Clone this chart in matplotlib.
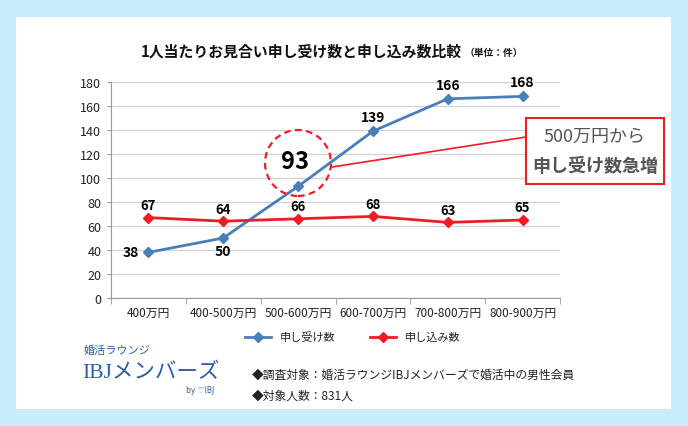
import matplotlib.pyplot as plt
from matplotlib.patches import Rectangle, Ellipse
from matplotlib.lines import Line2D

plt.rcParams['font.family'] = ['Noto Sans CJK JP', 'DejaVu Sans']

# -------------------------------
# DATA
# -------------------------------
categories = ["400万円", "400-500万円", "500-600万円", "600-700万円", "700-800万円", "800-900万円"]
received = [38, 50, 93, 139, 166, 168]     # 申し受け数
applied = [67, 64, 66, 68, 63, 65]         # 申し込み数
series_names = ["申し受け数", "申し込み数"]
yticks = [0, 20, 40, 60, 80, 100, 120, 140, 160, 180]

W, H = 688, 427
BLUE = "#4a7ebb"
RED = "#ee1c25"


def px(x, y):
    return x / W, 1 - y / H


fig = plt.figure(figsize=(W / 100, H / 100), dpi=100)
fig.patch.set_facecolor("#c6ecfd")
fig.patches.append(Rectangle(px(16, 410), (671 - 16) / W, (410 - 18) / H,
                             transform=fig.transFigure, facecolor="white",
                             edgecolor="none", zorder=-5))

ax = fig.add_axes([111 / W, 128 / H, (560 - 111) / W, (299 - 83) / H])
ax.set_facecolor("white")

x = list(range(len(categories)))
ax.plot(x, received, color=BLUE, lw=2, marker="D", ms=5.5, zorder=3)
ax.plot(x, applied, color=RED, lw=2, marker="D", ms=5.5, zorder=3)

ax.set_xlim(-0.5, len(categories) - 0.5)
ax.set_ylim(0, 180)
ax.set_yticks(yticks)
ax.set_xticks(x)
ax.set_xticklabels(categories, fontsize=8.5, color="#222")
ax.set_xticks([i - 0.5 for i in range(len(categories) + 1)], minor=True)
ax.tick_params(axis="x", which="major", length=0, pad=6)
ax.tick_params(axis="x", which="minor", length=4, color="#999")
ax.tick_params(axis="y", length=3, color="#999", labelsize=9, labelcolor="#222", pad=4)
ax.grid(axis="y", color="#d4d4d4", lw=1)
ax.set_axisbelow(True)
for s in ["top", "right"]:
    ax.spines[s].set_visible(False)
for s in ["left", "bottom"]:
    ax.spines[s].set_color("#999")

# data labels
for i, v in enumerate(received):
    if i == 0:
        ax.annotate(str(v), (i, v), xytext=(-7, 0), textcoords="offset points",
                    ha="right", va="center", fontsize=10, fontweight="bold")
    elif i == 1:
        ax.annotate(str(v), (i, v), xytext=(0, -4), textcoords="offset points",
                    ha="center", va="top", fontsize=10, fontweight="bold")
    elif i == 2:
        ax.annotate(str(v), (i, v), xytext=(-2, 18), textcoords="offset points",
                    ha="center", va="center", fontsize=17, fontweight="bold")
    else:
        ax.annotate(str(v), (i, v), xytext=(0, 5), textcoords="offset points",
                    ha="center", va="bottom", fontsize=10, fontweight="bold")
for i, v in enumerate(applied):
    ax.annotate(str(v), (i, v), xytext=(0, 4), textcoords="offset points",
                ha="center", va="bottom", fontsize=9.5, fontweight="bold")

# callout circle, line and box
fig.patches.append(Ellipse(px(298, 164), 66 / W, 66 / H, transform=fig.transFigure,
                           facecolor="none", edgecolor=RED, lw=1.6, ls=(0, (3, 2)), zorder=5))
fig.lines.append(Line2D([332 / W, 526 / W], [1 - 168 / H, 1 - 138 / H],
                        transform=fig.transFigure, color=RED, lw=1.2, zorder=5))
fig.patches.append(Rectangle(px(526, 185), (664 - 526) / W, (185 - 119) / H,
                             transform=fig.transFigure, facecolor="white",
                             edgecolor=RED, lw=1.5, zorder=5))
fig.text(*px(595, 137), "500万円から", ha="center", va="center", fontsize=13,
         color="#555", zorder=6)
fig.text(*px(595, 166), "申し受け数急増", ha="center", va="center", fontsize=13,
         color="#555", fontweight="bold", zorder=6)

# title
fig.text(*px(462, 52), "1人当たりお見合い申し受け数と申し込み数比較", ha="right", va="center",
         fontsize=10.7, fontweight="bold", color="#111")
fig.text(*px(465, 53), "（単位：件）", ha="left", va="center", fontsize=7,
         fontweight="bold", color="#111")

# legend
for (x0, c, name) in [(245, BLUE, series_names[0]), (370, RED, series_names[1])]:
    fig.lines.append(Line2D([x0 / W, (x0 + 26) / W], [1 - 338 / H] * 2,
                            transform=fig.transFigure, color=c, lw=2))
    fig.lines.append(Line2D([(x0 + 13) / W], [1 - 338 / H], transform=fig.transFigure,
                            color=c, marker="D", ms=5, lw=0))
    fig.text(*px(x0 + 35, 338), name, ha="left", va="center", fontsize=8, color="#222")

# logo
LOGO = "#2a5ea8"
fig.text(*px(84, 351), "婚活ラウンジ", ha="left", va="center", fontsize=8, color=LOGO)
fig.text(*px(82, 373), "IBJメンバーズ", ha="left", va="center", fontsize=15.5,
         color=LOGO, family=["Liberation Serif", "Noto Sans CJK JP"])
fig.text(*px(214, 391), "by ♡IBJ", ha="right", va="center", fontsize=5.5,
         color=LOGO, family=["DejaVu Sans"])

# notes
fig.text(*px(252, 375), "◆調査対象：婚活ラウンジIBJメンバーズで婚活中の男性会員",
         ha="left", va="center", fontsize=8.5, color="#222")
fig.text(*px(252, 396), "◆対象人数：831人", ha="left", va="center", fontsize=8.5, color="#222")

fig.savefig("out.png", dpi=100, facecolor=fig.get_facecolor())
